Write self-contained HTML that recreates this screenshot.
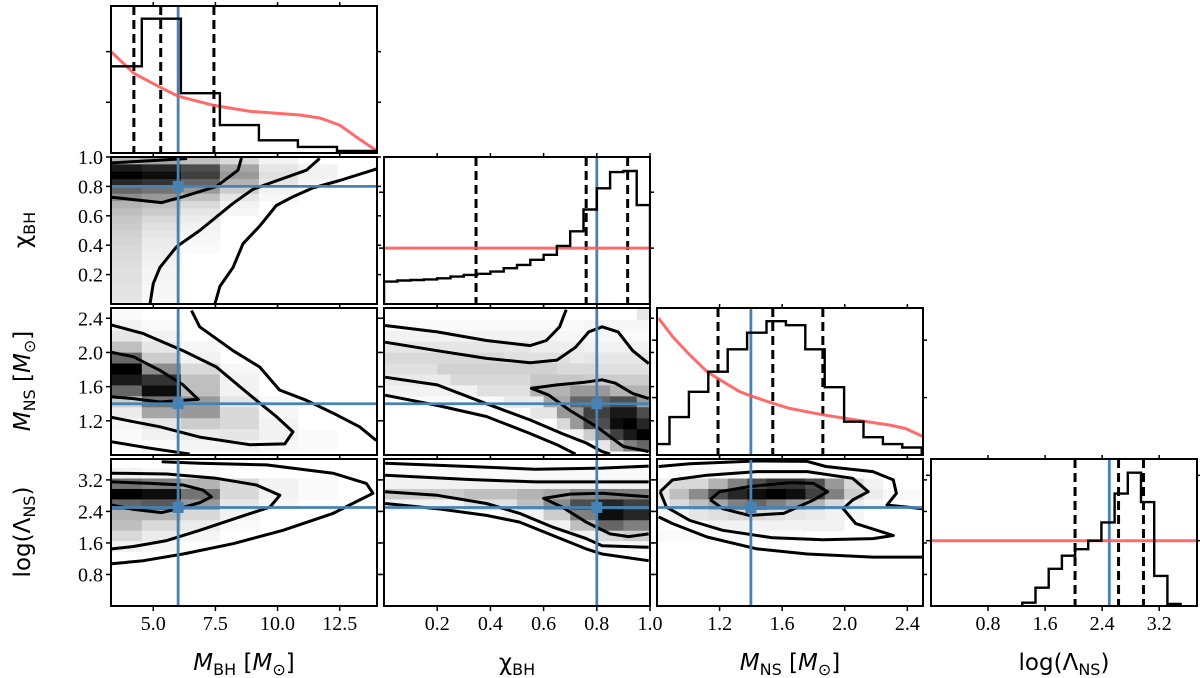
<!DOCTYPE html>
<html><head><meta charset="utf-8">
<style>
html,body{margin:0;padding:0;background:#fff;}
svg{display:block;}
.tk{font-family:"Liberation Serif",serif;font-size:20px;fill:#000;}
.al{font-family:"DejaVu Sans","Liberation Sans",sans-serif;font-size:23px;fill:#000;}
.it{font-family:"DejaVu Sans","Liberation Sans",sans-serif;font-style:italic;}
</style></head>
<body>
<svg id="fig" width="1200" height="678" viewBox="0 0 1200 678" xmlns="http://www.w3.org/2000/svg">
<g id="layers"></g>
<text class="al" x="244" y="670" text-anchor="middle"><tspan class="it">M</tspan><tspan font-size="16" dy="5">BH</tspan><tspan dy="-5"> [</tspan><tspan class="it">M</tspan><tspan font-size="16" dy="5">⊙</tspan><tspan dy="-5">]</tspan></text>
<text class="al" x="517" y="670" text-anchor="middle">χ<tspan font-size="16" dy="5">BH</tspan></text>
<text class="al" x="790" y="670" text-anchor="middle"><tspan class="it">M</tspan><tspan font-size="16" dy="5">NS</tspan><tspan dy="-5"> [</tspan><tspan class="it">M</tspan><tspan font-size="16" dy="5">⊙</tspan><tspan dy="-5">]</tspan></text>
<text class="al" x="1064" y="670" text-anchor="middle">log(Λ<tspan font-size="16" dy="5">NS</tspan><tspan dy="-5">)</tspan></text>
<text class="al" transform="translate(30,230) rotate(-90)" text-anchor="middle">χ<tspan font-size="16" dy="5">BH</tspan></text>
<text class="al" transform="translate(30,381) rotate(-90)" text-anchor="middle"><tspan class="it">M</tspan><tspan font-size="16" dy="5">NS</tspan><tspan dy="-5"> [</tspan><tspan class="it">M</tspan><tspan font-size="16" dy="5">⊙</tspan><tspan dy="-5">]</tspan></text>
<text class="al" transform="translate(30,532) rotate(-90)" text-anchor="middle">log(Λ<tspan font-size="16" dy="5">NS</tspan><tspan dy="-5">)</tspan></text>
</svg>
<script>
// ---- data ----
const paramNames = ["mbh","chi","mns","lambda"];
const truthValues = [6.0, 0.8, 1.4, 2.5];
const mbhTickLabels = [5.0, 7.5, 10.0, 12.5];
const chiTickLabels = [0.2, 0.4, 0.6, 0.8, 1.0];
const mnsTickLabels = [1.2, 1.6, 2.0, 2.4];
const lamTickLabels = [0.8, 1.6, 2.4, 3.2];

const mbhHistStart = 2.97, mbhHistWidth = 1.57;
const mbhHist = [1.71, 2.65, 1.18, 0.55, 0.25, 0.12, 0.04];
const mbhQuantiles = [4.22, 5.3, 7.44];
const mbhPriorX = [3.3, 4.22, 5.3, 6.0, 7.44, 8.9, 10.9, 11.7, 12.5, 13.3, 14.0];
const mbhPriorY = [2.0, 1.57, 1.29, 1.12, 0.94, 0.82, 0.75, 0.69, 0.55, 0.27, 0.04];

const chiHistStart = 0, chiHistWidth = 0.05;
const chiHist = [0.40,0.42,0.43,0.44,0.46,0.49,0.52,0.54,0.58,0.64,0.70,0.79,0.88,1.04,1.30,1.69,2.07,2.36,2.38,1.77];
const chiQuantiles = [0.346, 0.76, 0.916];
const chiPriorLevel = 1.0;

const mnsHistStart = 0.756, mnsHistWidth = 0.124;
const mnsHist = [0.19,0.66,1.10,1.45,1.84,2.13,2.33,2.26,1.84,1.18,0.58,0.31,0.19,0.13];
const mnsQuantiles = [1.19, 1.54, 1.86];
const mnsPriorX = [0.81,0.90,1.01,1.12,1.19,1.33,1.40,1.54,1.65,1.86,2.07,2.29,2.39,2.50];
const mnsPriorY = [2.38,2.06,1.74,1.45,1.33,1.10,1.03,0.90,0.81,0.70,0.61,0.52,0.46,0.32];

const lamHistStart = 1.28, lamHistWidth = 0.185;
const lamHist = [0.05,0.28,0.57,0.77,0.87,1.0,1.28,1.72,2.04,1.59,0.46,0.03];
const lamQuantiles = [2.02, 2.63, 2.98];
const lamPriorLevel = 1.0;

// heatmap grids (darkness 0..1), rows from top
const gridMbhChi = [
[0.3,0.35,0.25,0.15,0.05],
[0.9,0.85,0.7,0.35,0.1,0.05],
[1.0,0.95,0.75,0.4,0.12,0.05],
[0.85,0.8,0.6,0.3,0.1,0.03],
[0.6,0.55,0.4,0.2,0.05],
[0.45,0.4,0.25,0.1,0.03],
[0.3,0.25,0.15,0.05],
[0.25,0.2,0.1,0.03],
[0.22,0.15,0.07],[0.2,0.12,0.05],[0.18,0.1,0.04],[0.17,0.08,0.03],[0.15,0.07,0.02],
[0.14,0.06],[0.13,0.05],[0.12,0.04],[0.12,0.04],[0.11,0.03],[0.11,0.03],[0.1,0.03]];
const gridMbhMns = [
[0.02],[0.05,0.02],[0.1,0.05],[0.25,0.1,0.03],[0.6,0.2,0.05],
[1.0,0.45,0.15,0.03],[0.9,0.8,0.25,0.05],[0.6,0.95,0.25,0.05],
[0.2,0.55,0.4,0.1,0.03],[0.08,0.35,0.4,0.15,0.03],[0.04,0.1,0.2,0.15,0.05],
[0.02,0.05,0.08,0.1,0.05,0.02],[0.01,0.02,0.04,0.05,0.03,0.02]];
const gridMbhLam = [
[0.05,0.03,0.02],[0.55,0.5,0.3,0.15,0.05,0.02],[1.0,0.95,0.55,0.15,0.05,0.02],
[0.6,0.65,0.4,0.1,0.03],[0.3,0.3,0.15,0.05],[0.25,0.15,0.08,0.02],[0.15,0.08,0.04],[0.05,0.03]];
const gridChiMns = [
[0,0,0,0,0,0,0,0,0,0,0,0,0,0,0,0,0,0,0,0.1],
[0.02,0.02,0.02,0.02,0.02,0.02,0.02,0.02,0.02,0.02,0.02,0.02,0.02,0.02,0.02,0.03,0.03,0.03,0.03,0.03],
[0.05,0.05,0.05,0.05,0.05,0.05,0.05,0.05,0.05,0.05,0.05,0.05,0.05,0.03,0.03,0.03,0.03,0.03,0.02,0.02],
[0.1,0.1,0.1,0.1,0.1,0.1,0.1,0.1,0.1,0.1,0.1,0.07,0.07,0.07,0.07,0.05,0.05,0.05,0.05,0.05],
[0.15,0.15,0.15,0.15,0.15,0.15,0.15,0.15,0.15,0.12,0.12,0.12,0.12,0.12,0.08,0.1,0.1,0.1,0.1,0.1],
[0.12,0.12,0.12,0.12,0.18,0.18,0.18,0.18,0.18,0.18,0.18,0.18,0.18,0.15,0.15,0.15,0.12,0.12,0.12,0.12],
[0.08,0.08,0.08,0.08,0.08,0.15,0.15,0.15,0.15,0.15,0.15,0.22,0.22,0.22,0.22,0.2,0.2,0.2,0.2,0.2],
[0.05,0.05,0.05,0.05,0.05,0.05,0.05,0.12,0.12,0.12,0.12,0.3,0.3,0.3,0.4,0.4,0.4,0.3,0.3,0.3],
[0.02,0.02,0.02,0.02,0.02,0.02,0.02,0.02,0.02,0.08,0.08,0.08,0.35,0.35,0.6,0.6,0.6,0.7,0.7,0.4],
[0,0,0,0,0,0,0,0,0,0,0,0.1,0.1,0.4,0.4,0.75,0.75,0.9,0.9,0.7],
[0,0,0,0,0,0,0,0,0,0,0,0,0,0.15,0.4,0.7,0.7,0.95,1.0,0.85],
[0,0,0,0,0,0,0,0,0,0,0,0,0,0,0.05,0.2,0.5,0.75,0.9,1.0],
[0,0,0,0,0,0,0,0,0,0,0,0,0,0,0,0,0.1,0.3,0.5,0.6]];
const gridChiLam = [
[0.02,0.02,0.02,0.02,0.02,0.02,0.02,0.02,0.02,0.02,0.02,0.02,0.02,0.02,0.02,0.02,0.02,0.02,0.02,0.02],
[0.05,0.05,0.05,0.05,0.05,0.05,0.05,0.05,0.05,0.05,0.05,0.05,0.05,0.05,0.05,0.05,0.05,0.05,0.05,0.05],
[0.2,0.2,0.2,0.2,0.2,0.2,0.25,0.25,0.25,0.25,0.3,0.3,0.35,0.35,0.45,0.45,0.5,0.5,0.5,0.5],
[0.05,0.05,0.05,0.05,0.05,0.05,0.12,0.12,0.12,0.12,0.25,0.25,0.45,0.45,0.7,0.7,0.85,0.85,0.75,0.75],
[0,0,0,0,0,0,0,0,0,0.05,0.05,0.05,0.2,0.2,0.5,0.5,0.95,0.95,0.85,0.85],
[0,0,0,0,0,0,0,0,0,0,0,0,0.05,0.05,0.25,0.25,0.6,0.6,0.5,0.5],
[0,0,0,0,0,0,0,0,0,0,0,0,0,0,0.05,0.05,0.15,0.15,0.2,0.2],
[0,0,0,0,0,0,0,0,0,0,0,0,0,0,0,0,0.03,0.03,0.03,0.03]];
const gridMnsLam = [
[0,0.02,0.02,0.02,0.02,0.02,0.02,0.02,0.02,0.02,0.02],
[0.05,0.15,0.15,0.3,0.5,0.7,0.8,0.8,0.7,0.4,0.15,0.05],
[0.1,0.25,0.45,0.7,0.85,0.95,1.0,0.95,0.75,0.5,0.2,0.08,0.03,0.02],
[0.05,0.15,0.25,0.35,0.5,0.6,0.5,0.4,0.3,0.15,0.08,0.03],
[0.02,0.05,0.1,0.12,0.15,0.15,0.12,0.1,0.08,0.05,0.03],
[0,0,0,0.05,0.05,0.05,0.05,0.05,0.05,0.05],
[0.02,0.02,0.02,0.02,0.02,0.02,0.02,0.02]];

// contours: [x array, y array] pairs
const cMbhChi = [
 [[3.33,4.87,6.36],[0.96,0.975,0.99]],
 [[8.55,8.41,7.54,6.2,5.34,4.2,3.33],[0.993,0.91,0.80,0.73,0.69,0.71,0.726]],
 [[11.69,11.16,9.82,9.01,8.21,6.87,5.94,5.27,5.0,4.87],[0.99,0.91,0.83,0.78,0.685,0.50,0.39,0.25,0.14,0]],
 [[14.0,12.5,11.42,10.62,9.95,9.28,8.61,8.21,7.68,7.48],[0.92,0.84,0.79,0.73,0.67,0.53,0.41,0.25,0.12,0]]];
const cMbhMns = [
 [[3.33,4.2,5.27,6.2,6.81,6.2,5.27,4.2,3.33],[2.0,1.95,1.79,1.62,1.45,1.44,1.42,1.46,1.48]],
 [[3.33,4.6,6.2,7.54,8.48,9.15,9.95,10.62,10.29,8.88,6.87,5.27,4.2,3.33],[2.32,2.22,2.02,1.83,1.60,1.44,1.25,1.07,0.93,0.92,1.01,1.13,1.19,1.24]],
 [[6.54,6.87,8.21,9.28,10.08,11.16,12.23,13.3,13.97],[2.49,2.30,2.02,1.83,1.56,1.44,1.29,1.13,0.97]],
 [[3.33,4.87,6.47],[0.955,0.88,0.81]]];
const cMbhLam = [
 [[3.33,4.87,6.2,7.0,7.34,6.87,6.2,5.34,4.2,3.33],[3.15,3.11,3.07,2.94,2.77,2.62,2.50,2.37,2.45,2.56]],
 [[3.33,5.54,7.54,9.15,10.09,9.69,8.48,6.87,5.54,4.2,3.33],[3.37,3.35,3.24,3.07,2.81,2.51,2.26,1.92,1.66,1.51,1.45]],
 [[5.34,6.87,9.55,12.23,13.57,13.84,13.3,12.23,10.22,8.21,6.2,4.6,3.33],[3.66,3.62,3.58,3.37,3.11,2.86,2.69,2.35,1.92,1.58,1.32,1.15,1.07]]];
const cChiMns = [
 [[0.004,0.2,0.385,0.55,0.61,0.66,0.685],[2.315,2.24,2.14,2.08,2.14,2.30,2.50]],
 [[0.004,0.2,0.385,0.55,0.65,0.72,0.77,0.82,0.88,0.935,0.995],[2.12,2.02,1.93,1.88,1.91,2.06,2.24,2.30,2.24,2.02,1.87]],
 [[0.004,0.2,0.385,0.55,0.67,0.76,0.82,0.85],[1.71,1.62,1.40,1.21,1.05,0.94,0.84,0.81]],
 [[0.004,0.2,0.385,0.55,0.65,0.72],[1.50,1.38,1.25,1.05,0.92,0.81]],
 [[0.995,0.935,0.87,0.82,0.75,0.65,0.554,0.62,0.70,0.80,0.90,0.995],[1.46,1.52,1.64,1.68,1.65,1.62,1.58,1.50,1.32,1.13,0.90,0.84]]];
const cChiLam = [
 [[0.004,0.32,0.57,0.82,0.995],[3.62,3.54,3.47,3.50,3.55]],
 [[0.004,0.32,0.57,0.82,0.995],[3.32,3.21,3.15,3.15,3.15]],
 [[0.995,0.82,0.70,0.60,0.67,0.76,0.85,0.92,0.995],[2.77,2.86,2.84,2.73,2.51,2.13,1.83,1.76,1.83]],
 [[0.004,0.2,0.385,0.51,0.635,0.76,0.82,0.995],[2.90,2.81,2.60,2.35,2.0,1.71,1.53,1.49]],
 [[0.004,0.2,0.385,0.51,0.635,0.76,0.82,0.995],[2.60,2.47,2.30,2.13,1.79,1.45,1.32,1.15]]];
const cMnsLam = [
 [[1.14,1.20,1.39,1.65,1.80,1.89,1.80,1.61,1.39,1.22,1.14],[2.70,2.90,3.03,3.13,3.11,2.90,2.69,2.35,2.30,2.47,2.70]],
 [[0.82,0.90,1.12,1.44,1.76,2.05,2.15,2.05,1.99,2.07,2.31,2.18,1.86,1.54,1.22,1.01,0.86,0.82],[2.90,3.20,3.32,3.41,3.41,3.24,2.90,2.69,2.47,2.09,1.79,1.71,1.68,1.73,1.92,2.17,2.51,2.90]],
 [[0.81,1.01,1.43,1.76,1.88,2.18,2.31,2.33,2.27,2.50],[3.54,3.61,3.68,3.67,3.54,3.41,3.20,2.86,2.56,2.47]],
 [[2.50,2.18,1.76,1.44,1.12,0.90,0.81],[1.24,1.24,1.32,1.45,1.75,2.09,2.26]]];

// ---- layout ----
const NS = "http://www.w3.org/2000/svg";
const colX = [111, 384, 657, 931], rowY = [6, 157, 308, 459], PW = 266, PH = 147;
const xRange = [[3.3,14.0],[0,1],[0.8,2.5],[0,3.73]];
const yRange = [null,[0,1],[0.8,2.52],[0,3.73]];
const diagMax = [2.9, 2.63, 2.56, 2.25];
const diagTicks = [[1,2],[1,2],[1,2],[1,2]];
const tickSets = [mbhTickLabels, chiTickLabels, mnsTickLabels, lamTickLabels];
const yTickSets = [null, [0.2,0.4,0.6,0.8,1.0], mnsTickLabels, lamTickLabels];
const BLUE = "#4682b4", RED = "#ff5a5a";
const root = document.getElementById("layers");

function el(tag, attrs, parent) {
  const e = document.createElementNS(NS, tag);
  for (const k in attrs) e.setAttribute(k, attrs[k]);
  (parent || root).appendChild(e);
  return e;
}
function sx(c, v) { const r = xRange[c]; return colX[c] + (v - r[0]) / (r[1] - r[0]) * PW; }
function sy(r, v, diag) {
  if (diag) return rowY[r] + PH - v / diagMax[r] * PH;
  const R = yRange[r]; return rowY[r] + PH - (v - R[0]) / (R[1] - R[0]) * PH;
}
function fmt(v) { return v.toFixed(1); }

function makePanel(r, c) {
  const g = el("g", {});
  
  
  const cp = el("clipPath", {id: "cp" + r + c}, g);
  el("rect", {x: colX[c], y: rowY[r], width: PW, height: PH}, cp);
  const inner = el("g", {"clip-path": "url(#cp" + r + c + ")"}, g);
  return {g, inner};
}

function drawGrid(inner, r, c, grid, x0, xw, yTop, yStep) {
  grid.forEach((row, i) => {
    row.forEach((v, j) => {
      if (v <= 0) return;
      const xa = sx(c, x0 + j * xw), xb = sx(c, x0 + (j + 1) * xw);
      const ya = sy(r, yTop - i * yStep), yb = sy(r, yTop - (i + 1) * yStep);
      const gv = Math.round(255 * (1 - v));
      const rc = el("rect", {x: xa, y: ya, width: xb - xa + 0.5, height: yb - ya + 0.5, fill: `rgb(${gv},${gv},${gv})`}, inner);
      
      
    });
  });
}
function drawContours(inner, r, c, list) {
  list.forEach(([xs, ys]) => {
    const d = xs.map((x, i) => (i ? "L" : "M") + sx(c, x).toFixed(1) + "," + sy(r, ys[i]).toFixed(1)).join("");
    const p = el("path", {d, fill: "none", stroke: "#000", "stroke-width": 3, "stroke-linejoin": "round"}, inner);
    
    
  });
}
function drawHist(inner, r, start, w, vals) {
  let d = "M" + sx(r, start) + "," + sy(r, 0, true);
  vals.forEach((h, i) => {
    d += "L" + sx(r, start + i * w).toFixed(1) + "," + sy(r, h, true).toFixed(1) + "L" + sx(r, start + (i + 1) * w).toFixed(1) + "," + sy(r, h, true).toFixed(1);
  });
  d += "L" + sx(r, start + vals.length * w) + "," + sy(r, 0, true);
  const p = el("path", {d, fill: "none", stroke: "#000", "stroke-width": 2.4}, inner);
  
  
}
function drawPrior(inner, r, xs, ys) {
  const d = xs.map((x, i) => (i ? "L" : "M") + sx(r, x).toFixed(1) + "," + sy(r, ys[i], true).toFixed(1)).join("");
  const p = el("path", {d, fill: "none", stroke: RED, "stroke-width": 3, "stroke-opacity": 0.9}, inner);
  
  
}
function drawQuantiles(inner, r, qs) {
  qs.forEach(q => {
    const l = el("line", {x1: sx(r, q), x2: sx(r, q), y1: rowY[r], y2: rowY[r] + PH, stroke: "#000", "stroke-width": 3, "stroke-dasharray": "9,5"}, inner);
    
    
  });
}
function drawTruth(inner, r, c) {
  const tx = sx(c, truthValues[c]);
  const v = el("line", {x1: tx, x2: tx, y1: rowY[r], y2: rowY[r] + PH, stroke: BLUE, "stroke-width": 2.8}, inner);
  
  
  if (r !== c) {
    const ty = sy(r, truthValues[r]);
    const h = el("line", {x1: colX[c], x2: colX[c] + PW, y1: ty, y2: ty, stroke: BLUE, "stroke-width": 2.8}, inner);
    
    
    const m = el("rect", {x: tx - 5.5, y: ty - 5.5, width: 11, height: 11, fill: BLUE}, inner);
    
    
  }
}
function drawFrame(g, r, c) {
  const f = el("rect", {x: colX[c], y: rowY[r], width: PW, height: PH, fill: "none", stroke: "#000", "stroke-width": 2}, g);
  
  
  tickSets[c].forEach(t => {
    const x = sx(c, t);
    el("line", {x1: x, x2: x, y1: rowY[r] + PH, y2: rowY[r] + PH + 5, stroke: "#000", "stroke-width": 1.5}, g);
    el("line", {x1: x, x2: x, y1: rowY[r], y2: rowY[r] - 4, stroke: "#000", "stroke-width": 1.5}, g);
    if (r === 3) {
      const tl = el("text", {x, y: rowY[r] + PH + 24, "text-anchor": "middle", class: "tk"}, g);
      tl.textContent = fmt(t);
      
      
    }
  });
  const ys = r === c ? diagTicks[r].map(v => sy(r, v, true)) : yTickSets[r].map(v => sy(r, v));
  ys.forEach((y, i) => {
    el("line", {x1: colX[c], x2: colX[c] - 5, y1: y, y2: y, stroke: "#000", "stroke-width": 1.5}, g);
    el("line", {x1: colX[c] + PW, x2: colX[c] + PW + 4, y1: y, y2: y, stroke: "#000", "stroke-width": 1.5}, g);
    if (c === 0 && r > 0) {
      const tl = el("text", {x: colX[c] - 8, y: y + 7, "text-anchor": "end", class: "tk"}, g);
      tl.textContent = yTickSets[r][i].toFixed(1);
      
      
    }
  });
}

const hists = [[mbhHistStart, mbhHistWidth, mbhHist], [chiHistStart, chiHistWidth, chiHist], [mnsHistStart, mnsHistWidth, mnsHist], [lamHistStart, lamHistWidth, lamHist]];
const quants = [mbhQuantiles, chiQuantiles, mnsQuantiles, lamQuantiles];
for (let i = 0; i < 4; i++) {
  const {g, inner} = makePanel(i, i);
  drawQuantiles(inner, i, quants[i]);
  drawTruth(inner, i, i);
  if (i === 0) drawPrior(inner, 0, mbhPriorX, mbhPriorY);
  if (i === 1) drawPrior(inner, 1, xRange[1], [chiPriorLevel, chiPriorLevel]);
  if (i === 2) drawPrior(inner, 2, mnsPriorX, mnsPriorY);
  if (i === 3) drawPrior(inner, 3, xRange[3], [lamPriorLevel, lamPriorLevel]);
  drawHist(inner, i, hists[i][0], hists[i][1], hists[i][2]);
  drawFrame(g, i, i);
}
const offDiag = [
  [1, 0, gridMbhChi, mbhHistStart, mbhHistWidth, 1.0, 0.05, cMbhChi],
  [2, 0, gridMbhMns, mbhHistStart, mbhHistWidth, 2.51, 0.128, cMbhMns],
  [3, 0, gridMbhLam, mbhHistStart, mbhHistWidth, 3.5, 0.265, cMbhLam],
  [2, 1, gridChiMns, 0, 0.05, 2.51, 0.128, cChiMns],
  [3, 1, gridChiLam, 0, 0.05, 3.5, 0.265, cChiLam],
  [3, 2, gridMnsLam, mnsHistStart, mnsHistWidth, 3.5, 0.265, cMnsLam]];
offDiag.forEach(([r, c, grid, x0, xw, yTop, yStep, cont]) => {
  const {g, inner} = makePanel(r, c);
  drawGrid(inner, r, c, grid, x0, xw, yTop, yStep);
  drawContours(inner, r, c, cont);
  drawTruth(inner, r, c);
  drawFrame(g, r, c);
});
</script>
</body></html>
